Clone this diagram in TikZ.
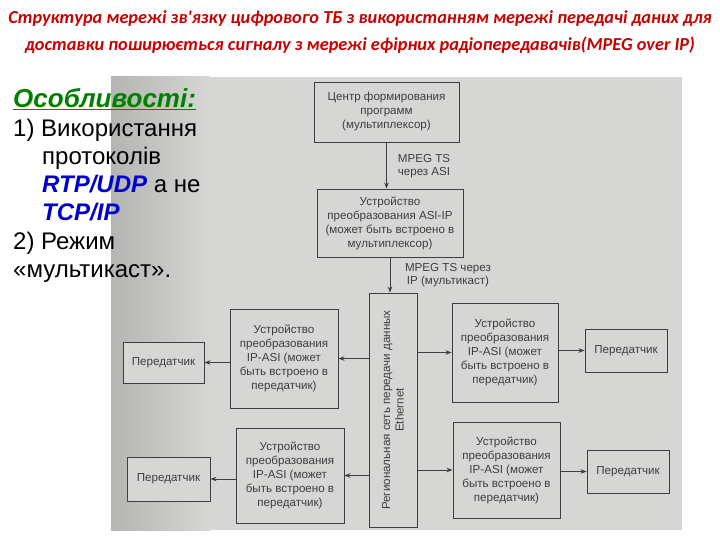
\documentclass[tikz,border=0pt]{standalone}
\usepackage{fontspec}
\setmainfont{Liberation Sans}
\newfontfamily\titlefont{Carlito}
\usetikzlibrary{arrows.meta}
\definecolor{titlered}{RGB}{200,0,0}
\definecolor{headgreen}{RGB}{0,128,0}
\definecolor{kwblue}{RGB}{0,0,204}
\definecolor{paper}{RGB}{214,214,212}
\definecolor{paperdark}{RGB}{180,180,178}
\definecolor{ink}{RGB}{62,62,62}
\begin{document}
\begin{tikzpicture}[x=1pt,y=-1pt,
  blk/.style={draw=ink, line width=0.9pt, fill=paper, text=ink,
    font=\fontsize{11.6}{14}\selectfont, align=center, inner sep=2pt},
  arr/.style={draw=ink, line width=0.8pt, -{Stealth[length=6pt,width=4.5pt]}},
  lbl/.style={text=ink, font=\fontsize{11.6}{13.5}\selectfont, align=center, inner sep=0pt},
  note/.style={font=\fontsize{24}{24}\selectfont, anchor=base west, inner sep=0pt},
  ttl/.style={text=titlered, font=\titlefont\bfseries\itshape\fontsize{18.3}{20}\selectfont, inner sep=0pt}]
\useasboundingbox (0,0) rectangle (720,540);
\fill[white] (0,0) rectangle (720,540);
% scanned photo background
\fill[paper] (111,77) rectangle (682,530);
\shade[left color=paperdark, right color=paper] (111,77) rectangle (210,530);

% title
\node[ttl] (t1) at (360,19) {Структура мережі зв'язку цифрового ТБ з використанням мережі передачі даних для};
\node[ttl] (t2) at (360,45) {доставки поширюється сигналу з мережі ефірних радіопередавачів(MPEG over IP)};

% left notes
\node[note, text=headgreen, font=\fontsize{26}{26}\selectfont] (h) at (13,108) {\bfseries\itshape\underline{Особливості:}};
\node[note] (n1) at (13,137) {1) Використання};
\node[note] (n2) at (42,165) {протоколів};
\node[note] (n3) at (42,193) {{\color{kwblue}\bfseries\itshape RTP/UDP} а не};
\node[note] (n4) at (42,221) {\color{kwblue}\bfseries\itshape TCP/IP};
\node[note] (n5) at (13,249) {2) Режим};
\node[note] (n6) at (13,277) {«мультикаст».};

% diagram boxes
\node[blk, minimum width=145pt, minimum height=60pt] (cf) at (386.5,112)
  {Центр формирования\\программ\\(мультиплексор)};
\node[blk, minimum width=146pt, minimum height=68pt] (ai) at (390,223)
  {Устройство\\преобразования ASI-IP\\(может быть встроено в\\мультиплексор)};
\node[blk, minimum width=48pt, minimum height=234pt] (eth) at (393,410) {};
\node[lbl, rotate=90] (ethtxt) at (eth.center) {Региональная сеть передачи данных\\Ethernet};

\node[blk, minimum width=108pt, minimum height=99pt] (lu) at (284,358.5)
  {Устройство\\преобразования\\IP-ASI (может\\быть встроено в\\передатчик)};
\node[blk, minimum width=108pt, minimum height=95pt] (ll) at (290,475.5)
  {Устройство\\преобразования\\IP-ASI (может\\быть встроено в\\передатчик)};
\node[blk, minimum width=106pt, minimum height=99pt] (ru) at (505,352.5)
  {Устройство\\преобразования\\IP-ASI (может\\быть встроено в\\передатчик)};
\node[blk, minimum width=107pt, minimum height=96pt] (rl) at (506.5,470)
  {Устройство\\преобразования\\IP-ASI (может\\быть встроено в\\передатчик)};

\node[blk, minimum width=82pt, minimum height=43pt] (rt1) at (626,350.5) {Передатчик};
\node[blk, minimum width=82pt, minimum height=43pt] (rt2) at (628,471.5) {Передатчик};
\node[blk, minimum width=81pt, minimum height=41pt] (lt1) at (163.5,362.5) {Передатчик};
\node[blk, minimum width=83pt, minimum height=44pt] (lt2) at (168.5,479) {Передатчик};

% labels
\node[lbl] (l1) at (424,166) {MPEG TS\\через ASI};
\node[lbl] (l2) at (448,275) {MPEG TS через\\IP (мультикаст)};

% connectors
\draw[arr] (cf.south) -- (cf.south |- ai.north);
\draw[arr] (ai.south) -- (ai.south |- eth.north);
\draw[arr] (eth.west |- lu.east) -- (lu.east);
\draw[arr] (eth.west |- ll.east) -- (ll.east);
\draw[arr] (eth.east |- ru.west) -- (ru.west);
\draw[arr] (eth.east |- rl.west) -- (rl.west);
\draw[arr] (lu.west |- lt1.east) -- (lt1.east);
\draw[arr] (ll.west |- lt2.east) -- (lt2.east);
\draw[arr] (ru.east |- rt1.west) -- (rt1.west);
\draw[arr] (rl.east |- rt2.west) -- (rt2.west);
\end{tikzpicture}
\end{document}
